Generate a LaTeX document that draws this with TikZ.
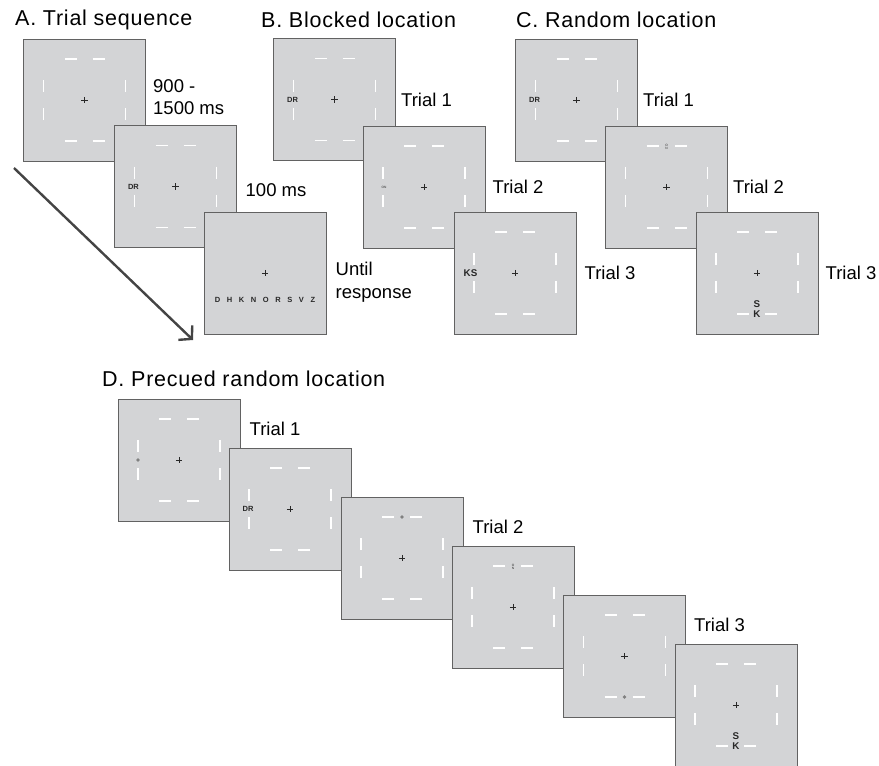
\documentclass[tikz,border=0pt]{standalone}
\usepackage{fontspec}
\setmainfont{Liberation Sans}
\newfontfamily\titlefont[LetterSpace=3.5]{Liberation Sans}
\usepackage{tikz}
\usetikzlibrary{positioning,arrows.meta}

\definecolor{scrfill}{RGB}{211,212,214}
\definecolor{scrdraw}{RGB}{98,98,98}
\definecolor{cuegray}{RGB}{128,128,128}
\definecolor{inkgray}{RGB}{40,40,40}
\definecolor{arrowgray}{RGB}{68,68,68}

\tikzset{
	screen/.style={draw=scrdraw, fill=scrfill, line width=1pt, minimum size=122pt, inner sep=0pt},
	placeholder/.style={draw=white, line width=1.3pt},
	fixcross/.style={draw=inkgray, line width=0.8pt},
	paneltitle/.style={font=\titlefont\fontsize{21.5}{25}\selectfont, inner sep=0pt, anchor=west},
	lab/.style={font=\fontsize{18.5}{22.5}\selectfont, inner sep=0pt, align=left},
	letters/.style={font=\fontsize{7.5}{7.5}\selectfont\bfseries, text=inkgray, inner sep=0pt},
	bigletters/.style={font=\fontsize{9.8}{9.2}\selectfont\bfseries, text=inkgray, inner sep=0pt, align=center},
	tinyletters/.style={font=\fontsize{3.2}{3.4}\selectfont, text=inkgray, inner sep=0pt, align=center},
	cue/.style={fill=cuegray, circle, inner sep=0pt, minimum size=3.6pt},
	flowarrow/.style={draw=arrowgray, line width=2.4pt, -{Straight Barb[length=9pt,width=20pt]}},
	fixation/.pic={
		\draw[fixcross] (-3.2,0) -- (3.2,0) (0,-3.2) -- (0,3.2);
	},
	stimframe/.pic={
		\draw[placeholder] (-20,-41) -- (-8,-41) (8,-41) -- (20,-41)
			(-20,41) -- (-8,41) (8,41) -- (20,41)
			(-41,-20) -- (-41,-8) (-41,8) -- (-41,20)
			(41,-20) -- (41,-8) (41,8) -- (41,20);
		\draw[fixcross] (-3.2,0) -- (3.2,0) (0,-3.2) -- (0,3.2);
	}
}

\begin{document}
\begin{tikzpicture}[x=1pt, y=-1pt]
\useasboundingbox (0,0) rectangle (879,766);

\node[paneltitle] (titleA) at (15,20) {A. Trial sequence};
\node[paneltitle] (titleB) at (261,20) {B. Blocked location};
\node[paneltitle] (titleC) at (516,20) {C. Random location};
\node[paneltitle] (titleD) at (102,379) {D. Precued random location};

\node[screen] (a1) at (84.5,100) {};
\pic at (a1.center) {stimframe};
\node[screen] (a2) at (175.5,186.5) {};
\pic at (a2.center) {stimframe};
\node[letters] (a2let) at ([xshift=-42pt]a2.center) {DR};
\node[screen] (a3) at (265,273) {};
\pic at (a3.center) {fixation};
\node[letters] (a3let) at ([yshift=-27pt]a3.center) {\spaceskip=6.6pt D H K N O R S V Z};
\node[lab, right=7pt of a1, yshift=3pt] (a1lab) {900 -\\1500 ms};
\node[lab, right=8.5pt of a2, yshift=-3.5pt] (a2lab) {100 ms};
\node[lab, right=9pt of a3, yshift=-9pt] (a3lab) {Until\\response};
\coordinate (arrowstart) at (14,168);
\coordinate (arrowend) at (193,340);
\draw[flowarrow] (arrowstart) -- (arrowend);

\node[screen] (b1) at (334.5,99.5) {};
\pic at (b1.center) {stimframe};
\node[letters] (b1let) at ([xshift=-42pt]b1.center) {DR};
\node[screen] (b2) at (424,187) {};
\pic at (b2.center) {stimframe};
\node[tinyletters] (b2let) at ([xshift=-40pt]b2.center) {ON};
\node[screen] (b3) at (515,273) {};
\pic at (b3.center) {stimframe};
\node[bigletters] (b3let) at ([xshift=-44.5pt]b3.center) {KS};
\node[lab, right=5pt of b1] (b1lab) {Trial 1};
\node[lab, right=7pt of b2] (b2lab) {Trial 2};
\node[lab, right=8pt of b3] (b3lab) {Trial 3};

\node[screen] (c1) at (576.5,100) {};
\pic at (c1.center) {stimframe};
\node[letters] (c1let) at ([xshift=-42pt]c1.center) {DR};
\node[screen] (c2) at (666.5,187) {};
\pic at (c2.center) {stimframe};
\node[tinyletters] (c2let) at ([yshift=40pt]c2.center) {O\\N};
\node[screen] (c3) at (757,273) {};
\pic at (c3.center) {stimframe};
\node[bigletters] (c3let) at ([yshift=-36pt]c3.center) {S\\K};
\node[lab, right=5pt of c1] (c1lab) {Trial 1};
\node[lab, right=5pt of c2] (c2lab) {Trial 2};
\node[lab, right=7pt of c3] (c3lab) {Trial 3};

\node[screen] (d1) at (179,460) {};
\pic at (d1.center) {stimframe};
\node[cue] (d1cue) at ([xshift=-41pt]d1.center) {};
\node[screen] (d2) at (290,509) {};
\pic at (d2.center) {stimframe};
\node[letters] (d2let) at ([xshift=-42pt]d2.center) {DR};
\node[screen] (d3) at (402,558) {};
\pic at (d3.center) {stimframe};
\node[cue] (d3cue) at ([yshift=41pt]d3.center) {};
\node[screen] (d4) at (513,607) {};
\pic at (d4.center) {stimframe};
\node[tinyletters] (d4let) at ([yshift=40pt]d4.center) {O\\N};
\node[screen] (d5) at (624.5,656) {};
\pic at (d5.center) {stimframe};
\node[cue] (d5cue) at ([yshift=-41pt]d5.center) {};
\node[screen] (d6) at (736,705) {};
\pic at (d6.center) {stimframe};
\node[bigletters] (d6let) at ([yshift=-36pt]d6.center) {S\\K};
\node[lab, right=9pt of d1.north east, yshift=-30pt] (d1lab) {Trial 1};
\node[lab, right=9pt of d3.north east, yshift=-30pt] (d3lab) {Trial 2};
\node[lab, right=8pt of d5.north east, yshift=-30pt] (d5lab) {Trial 3};
\end{tikzpicture}
\end{document}
